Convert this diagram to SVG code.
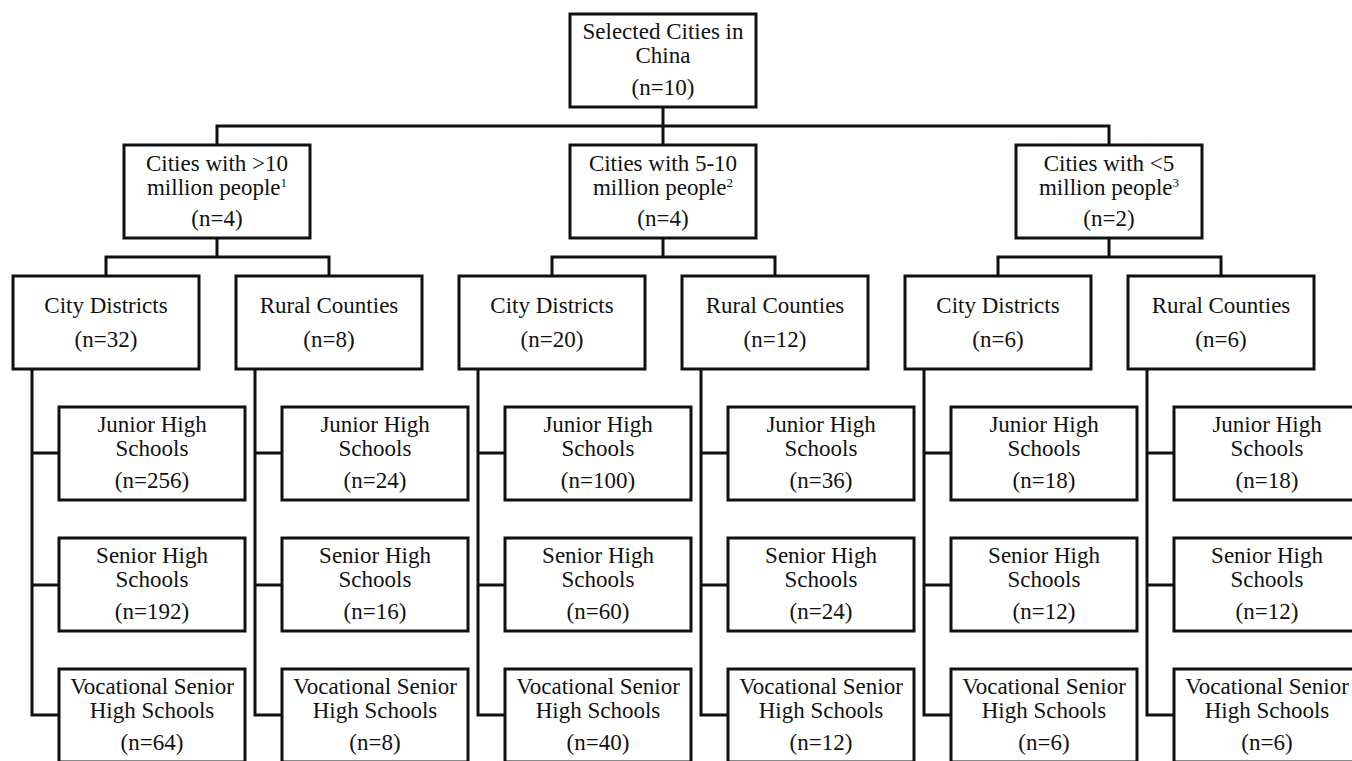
<svg xmlns="http://www.w3.org/2000/svg" width="1352" height="761" viewBox="0 0 1352 761">
<style>
.b{fill:#fff;stroke:#111;stroke-width:3}
.c{fill:none;stroke:#111;stroke-width:3;stroke-linejoin:miter;stroke-linecap:square}
text{font-family:"Liberation Serif","DejaVu Serif",serif;font-size:23px;fill:#111;text-anchor:middle}
.s{font-size:13px}
</style>
<rect width="1352" height="761" fill="#fff"/>
<g id="connectors">
<path class="c" d="M663 107V145M217 145V126H1109V145"/>
<path class="c" d="M217 238V257M106 276V257H329V276"/>
<path class="c" d="M663 238V257M552 276V257H775V276"/>
<path class="c" d="M1109 238V257M998 276V257H1221V276"/>
<path class="c" d="M32 369V715H59M32 453H59M32 585H59"/>
<path class="c" d="M255 369V715H282M255 453H282M255 585H282"/>
<path class="c" d="M478 369V715H505M478 453H505M478 585H505"/>
<path class="c" d="M701 369V715H728M701 453H728M701 585H728"/>
<path class="c" d="M924 369V715H951M924 453H951M924 585H951"/>
<path class="c" d="M1147 369V715H1174M1147 453H1174M1147 585H1174"/>
</g>
<g id="root"><rect class="b" x="570" y="14" width="186" height="93"/><text x="663" y="39">Selected Cities in</text><text x="663" y="63">China</text><text x="663" y="95">(n=10)</text></g>
<g id="big"><rect class="b" x="124" y="145" width="186" height="93"/><text x="217" y="171">Cities with &gt;10</text><text x="217" y="195">million people<tspan class="s" dy="-8">1</tspan></text><text x="217" y="226">(n=4)</text></g>
<g id="mid"><rect class="b" x="570" y="145" width="186" height="93"/><text x="663" y="171">Cities with 5-10</text><text x="663" y="195">million people<tspan class="s" dy="-8">2</tspan></text><text x="663" y="226">(n=4)</text></g>
<g id="small"><rect class="b" x="1016" y="145" width="186" height="93"/><text x="1109" y="171">Cities with &lt;5</text><text x="1109" y="195">million people<tspan class="s" dy="-8">3</tspan></text><text x="1109" y="226">(n=2)</text></g>
<g id="cd1"><rect class="b" x="13" y="276" width="186" height="93"/><text x="106" y="313">City Districts</text><text x="106" y="347">(n=32)</text></g>
<g id="rc1"><rect class="b" x="236" y="276" width="186" height="93"/><text x="329" y="313">Rural Counties</text><text x="329" y="347">(n=8)</text></g>
<g id="cd2"><rect class="b" x="459" y="276" width="186" height="93"/><text x="552" y="313">City Districts</text><text x="552" y="347">(n=20)</text></g>
<g id="rc2"><rect class="b" x="682" y="276" width="186" height="93"/><text x="775" y="313">Rural Counties</text><text x="775" y="347">(n=12)</text></g>
<g id="cd3"><rect class="b" x="905" y="276" width="186" height="93"/><text x="998" y="313">City Districts</text><text x="998" y="347">(n=6)</text></g>
<g id="rc3"><rect class="b" x="1128" y="276" width="186" height="93"/><text x="1221" y="313">Rural Counties</text><text x="1221" y="347">(n=6)</text></g>

<g id="jh1"><rect class="b" x="59" y="407" width="186" height="93"/><text x="152" y="432">Junior High</text><text x="152" y="456">Schools</text><text x="152" y="488">(n=256)</text></g>
<g id="sh1"><rect class="b" x="59" y="538" width="186" height="93"/><text x="152" y="563">Senior High</text><text x="152" y="587">Schools</text><text x="152" y="619">(n=192)</text></g>
<g id="vs1"><rect class="b" x="59" y="669" width="186" height="93"/><text x="152" y="694">Vocational Senior</text><text x="152" y="718">High Schools</text><text x="152" y="750">(n=64)</text></g>

<g id="jh2"><rect class="b" x="282" y="407" width="186" height="93"/><text x="375" y="432">Junior High</text><text x="375" y="456">Schools</text><text x="375" y="488">(n=24)</text></g>
<g id="sh2"><rect class="b" x="282" y="538" width="186" height="93"/><text x="375" y="563">Senior High</text><text x="375" y="587">Schools</text><text x="375" y="619">(n=16)</text></g>
<g id="vs2"><rect class="b" x="282" y="669" width="186" height="93"/><text x="375" y="694">Vocational Senior</text><text x="375" y="718">High Schools</text><text x="375" y="750">(n=8)</text></g>

<g id="jh3"><rect class="b" x="505" y="407" width="186" height="93"/><text x="598" y="432">Junior High</text><text x="598" y="456">Schools</text><text x="598" y="488">(n=100)</text></g>
<g id="sh3"><rect class="b" x="505" y="538" width="186" height="93"/><text x="598" y="563">Senior High</text><text x="598" y="587">Schools</text><text x="598" y="619">(n=60)</text></g>
<g id="vs3"><rect class="b" x="505" y="669" width="186" height="93"/><text x="598" y="694">Vocational Senior</text><text x="598" y="718">High Schools</text><text x="598" y="750">(n=40)</text></g>

<g id="jh4"><rect class="b" x="728" y="407" width="186" height="93"/><text x="821" y="432">Junior High</text><text x="821" y="456">Schools</text><text x="821" y="488">(n=36)</text></g>
<g id="sh4"><rect class="b" x="728" y="538" width="186" height="93"/><text x="821" y="563">Senior High</text><text x="821" y="587">Schools</text><text x="821" y="619">(n=24)</text></g>
<g id="vs4"><rect class="b" x="728" y="669" width="186" height="93"/><text x="821" y="694">Vocational Senior</text><text x="821" y="718">High Schools</text><text x="821" y="750">(n=12)</text></g>

<g id="jh5"><rect class="b" x="951" y="407" width="186" height="93"/><text x="1044" y="432">Junior High</text><text x="1044" y="456">Schools</text><text x="1044" y="488">(n=18)</text></g>
<g id="sh5"><rect class="b" x="951" y="538" width="186" height="93"/><text x="1044" y="563">Senior High</text><text x="1044" y="587">Schools</text><text x="1044" y="619">(n=12)</text></g>
<g id="vs5"><rect class="b" x="951" y="669" width="186" height="93"/><text x="1044" y="694">Vocational Senior</text><text x="1044" y="718">High Schools</text><text x="1044" y="750">(n=6)</text></g>

<g id="jh6"><rect class="b" x="1174" y="407" width="186" height="93"/><text x="1267" y="432">Junior High</text><text x="1267" y="456">Schools</text><text x="1267" y="488">(n=18)</text></g>
<g id="sh6"><rect class="b" x="1174" y="538" width="186" height="93"/><text x="1267" y="563">Senior High</text><text x="1267" y="587">Schools</text><text x="1267" y="619">(n=12)</text></g>
<g id="vs6"><rect class="b" x="1174" y="669" width="186" height="93"/><text x="1267" y="694">Vocational Senior</text><text x="1267" y="718">High Schools</text><text x="1267" y="750">(n=6)</text></g>
</svg>
